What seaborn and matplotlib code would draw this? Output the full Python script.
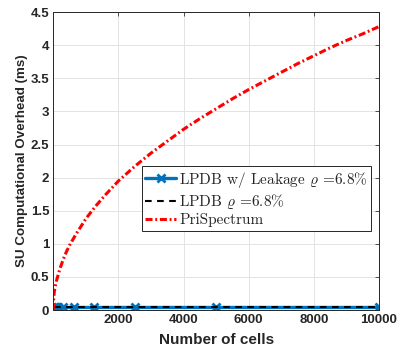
import matplotlib
matplotlib.use('Agg')
import matplotlib.pyplot as plt
import seaborn as sns
import pandas as pd

# datos
cells_lpdb = [20, 39, 78, 156, 312, 625, 1250, 2500, 5000, 10000]
lpdb_leak = [0.05, 0.05, 0.05, 0.05, 0.05, 0.05, 0.05, 0.05, 0.05, 0.05]
lpdb = [0.05, 0.05, 0.05, 0.05, 0.05, 0.05, 0.05, 0.05, 0.05, 0.05]

cells_pri = [0, 10, 30, 60, 100, 200, 300, 400, 500, 700, 1000, 1300, 1600,
             2000, 2500, 3000, 3500, 4000, 4500, 5000, 5500, 6000, 6500,
             7000, 7500, 8000, 8500, 9000, 9500, 10000]
prispectrum = [0.0, 0.18, 0.28, 0.36, 0.45, 0.62, 0.76, 0.88, 0.98, 1.15,
               1.38, 1.57, 1.74, 1.95, 2.17, 2.37, 2.55, 2.73, 2.89, 3.04,
               3.19, 3.33, 3.46, 3.59, 3.72, 3.84, 3.96, 4.07, 4.17, 4.28]

yticks = [0, 0.5, 1, 1.5, 2, 2.5, 3, 3.5, 4, 4.5]
ytick_labels = ['0', '0.5', '1', '1.5', '2', '2.5', '3', '3.5', '4', '4.5']
xticks = [2000, 4000, 6000, 8000, 10000]

sns.set_style('white')
plt.rcParams['font.family'] = ['Liberation Sans', 'DejaVu Sans']
plt.rcParams['mathtext.fontset'] = 'cm'

fig = plt.figure(figsize=(4.01, 3.54), dpi=100)
ax = fig.add_axes([0.133, 0.124, 0.812, 0.842])

df_lpdb = pd.DataFrame({'cells': cells_lpdb, 'leak': lpdb_leak, 'lpdb': lpdb})
df_pri = pd.DataFrame({'cells': cells_pri, 'pri': prispectrum})

sns.lineplot(data=df_lpdb, x='cells', y='leak', ax=ax, color='#0072BD',
             linewidth=2.4, marker='x', markersize=6, markeredgewidth=2,
             markeredgecolor='#0072BD',
             label=r'LPDB w/ Leakage $\varrho$ =6.8%')
sns.lineplot(data=df_lpdb, x='cells', y='lpdb', ax=ax, color='black',
             linewidth=1.5, linestyle=(0, (3.2, 2.6)),
             label=r'LPDB $\varrho$ =6.8%')
sns.lineplot(data=df_pri, x='cells', y='pri', ax=ax, color='red',
             linewidth=2.2, linestyle=(0, (2.3, 0.9, 0.6, 0.9)),
             label='PriSpectrum')

ax.set_xlim(0, 10000)
ax.set_ylim(0, 4.5)
ax.set_xticks(xticks)
ax.set_xticklabels([str(v) for v in xticks])
ax.set_yticks(yticks)
ax.set_yticklabels(ytick_labels)
ax.tick_params(direction='in', length=3, width=0.6, color='#333333',
               labelsize=9.5, top=True, right=True, pad=3)
for lab in ax.get_xticklabels() + ax.get_yticklabels():
    lab.set_fontweight('bold')
    lab.set_color('#262626')
ax.grid(True, color='#e3e3e3', linewidth=0.7)
for sp in ax.spines.values():
    sp.set_color('#262626')
    sp.set_linewidth(0.7)

ax.set_xlabel('Number of cells', fontsize=11, fontweight='bold', color='#262626', labelpad=5)
ax.set_ylabel('SU Computational Overhead (ms)', fontsize=9.6, fontweight='bold',
              color='#262626', labelpad=2)

leg = ax.legend(loc='upper left', bbox_to_anchor=(0.271, 0.484),
                prop={'family': ['cmr10', 'DejaVu Serif'], 'size': 11},
                handlelength=2.0, handletextpad=0.2, borderpad=0.25,
                borderaxespad=0, labelspacing=0.15, fancybox=False, framealpha=1)
leg.get_frame().set_edgecolor('#262626')
leg.get_frame().set_linewidth(0.7)

fig.savefig('out.png', dpi=100)
